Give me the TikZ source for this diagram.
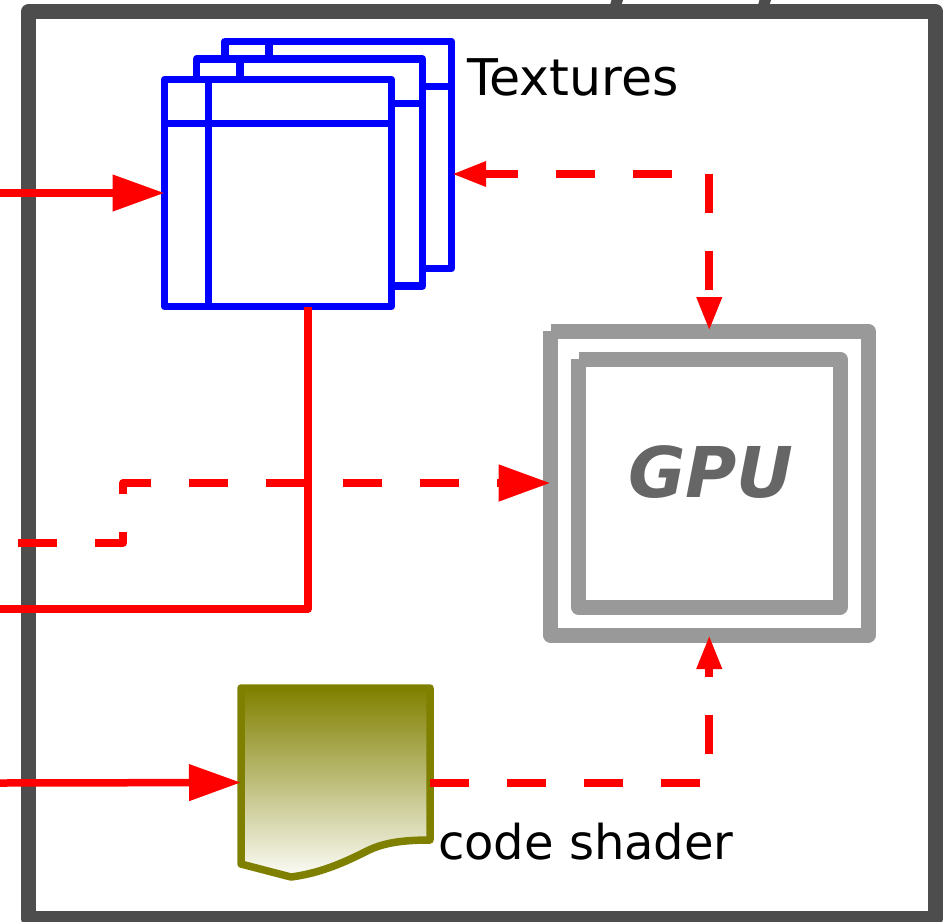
\documentclass[tikz,border=0pt]{standalone}
\usepackage{fontspec}
\setmainfont{DejaVu Sans}
\usetikzlibrary{arrows.meta}
\definecolor{framegray}{HTML}{4D4D4D}
\definecolor{chipgray}{HTML}{999999}
\definecolor{chiptext}{HTML}{666666}
\definecolor{docolive}{HTML}{808000}
\definecolor{docpale}{HTML}{FCFCF8}
\tikzset{
  x=1pt,y=-1pt,
  box/.style={rectangle,inner sep=0pt,outer sep=0pt,line join=round},
  framebox/.style={box,draw=framegray,line width=15pt,minimum width=907.3pt,minimum height=906.8pt},
  texbox/.style={box,draw=blue,fill=white,line width=7.3pt},
  texline/.style={draw=blue,line width=7.3pt},
  chipline/.style={draw=chipgray,line width=15pt,line join=round},
  solidred/.style={draw=red,line width=7.5pt,line join=round},
  dashred/.style={draw=red,line width=8pt,line join=round,dash pattern=on 39pt off 38pt},
  bighead/.style={-{Triangle[length=52pt,width=35pt]}},
  smallhead/.style={-{Triangle[length=34pt,width=23.5pt]}},
  label/.style={inner sep=0pt,outer sep=0pt,anchor=base west}
}
\begin{document}
\begin{tikzpicture}
\useasboundingbox (0,0) rectangle (949,921);
\fill[white] (0,0) rectangle (949,921);
% cut-off descenders of the title above the frame
\fill[framegray] (610,5) -- (611.5,0) -- (623,0) -- (621.5,5) -- cycle;
\fill[framegray] (758,5) -- (759.5,0) -- (771,0) -- (769.5,5) -- cycle;
\node[framebox] (frame) at (482.15,465.1) {};
% textures
\node[texbox,minimum width=226.5pt,minimum height=227pt] (back) at (338.25,155) {};
\draw[texline] (269,41.5) -- (269,60);
\draw[texline] (425,86.5) -- (451.5,86.5);
\node[texbox,minimum width=226pt,minimum height=227pt] (mid) at (309.5,172.5) {};
\draw[texline] (240,59) -- (240,79);
\draw[texline] (395,103.5) -- (422.5,103.5);
\node[texbox,minimum width=227pt,minimum height=227pt] (front) at (278,193) {};
\draw[texline] (208.5,79.5) -- (208.5,306.5);
\draw[texline] (164.5,123.5) -- (391.5,123.5);
\node[label,font=\fontsize{50.6}{60}\selectfont] (texlabel) at (467,95) {Textures};
% GPU
\node[box,minimum width=317.5pt,minimum height=304pt] (gpu) at (709.25,483) {};
\draw[chipline] (gpu.north west) -- (gpu.north east) -- (gpu.south east) -- (gpu.south west) -- (gpu.north west);
\node[box,minimum width=261.5pt,minimum height=248pt] (core) at (709.25,483) {};
\draw[chipline] (core.north west) -- (core.north east) -- (core.south east) -- (core.south west) -- (core.north west);
\node[inner sep=0pt,text=chiptext,font=\fontsize{70}{82}\selectfont\bfseries\itshape] (gpulabel) at (711,472) {GPU};
% code shader
\node[box,minimum width=189pt,minimum height=189pt] (code) at (335.5,782.5) {};
\path[draw=docolive,line width=7.5pt,line join=round,top color=docolive,bottom color=docpale]
  (241,688) -- (430,688) -- (430,840) .. controls (398,840) and (381,844) .. (367,851) .. controls (347,861) and (322,873) .. (291,877) -- (241,864) -- cycle;
\node[label,font=\fontsize{48}{58}\selectfont] (codelabel) at (438,859) {code shader};
% connector ends
\coordinate (inA) at (0,193);
\coordinate (inB) at (18,543);
\coordinate (inC) at (0,783);
\coordinate (outA) at (0,609);
\coordinate (texout) at (308,306.5);
\coordinate (texin) at (452,174);
\coordinate (texhead) at (490,174);
\coordinate (bendB) at (123,543);
\coordinate (bendC) at (123,483);
% connectors
\draw[solidred,bighead] (inA) -- (front.west);
\draw[solidred] (texout) |- (outA);
\draw[dashred,bighead] (inB) -- (bendB) -- (bendC) -- (gpu.west);
\draw[solidred,bighead] (inC) -- (code.west);
\draw[dashred,dash phase=50.4pt,smallhead] (texin) -| (gpu.north);
\draw[solidred,smallhead] (texhead) -- (texin);
\draw[dashred,smallhead] (code.east) -| (gpu.south);
\end{tikzpicture}
\end{document}
